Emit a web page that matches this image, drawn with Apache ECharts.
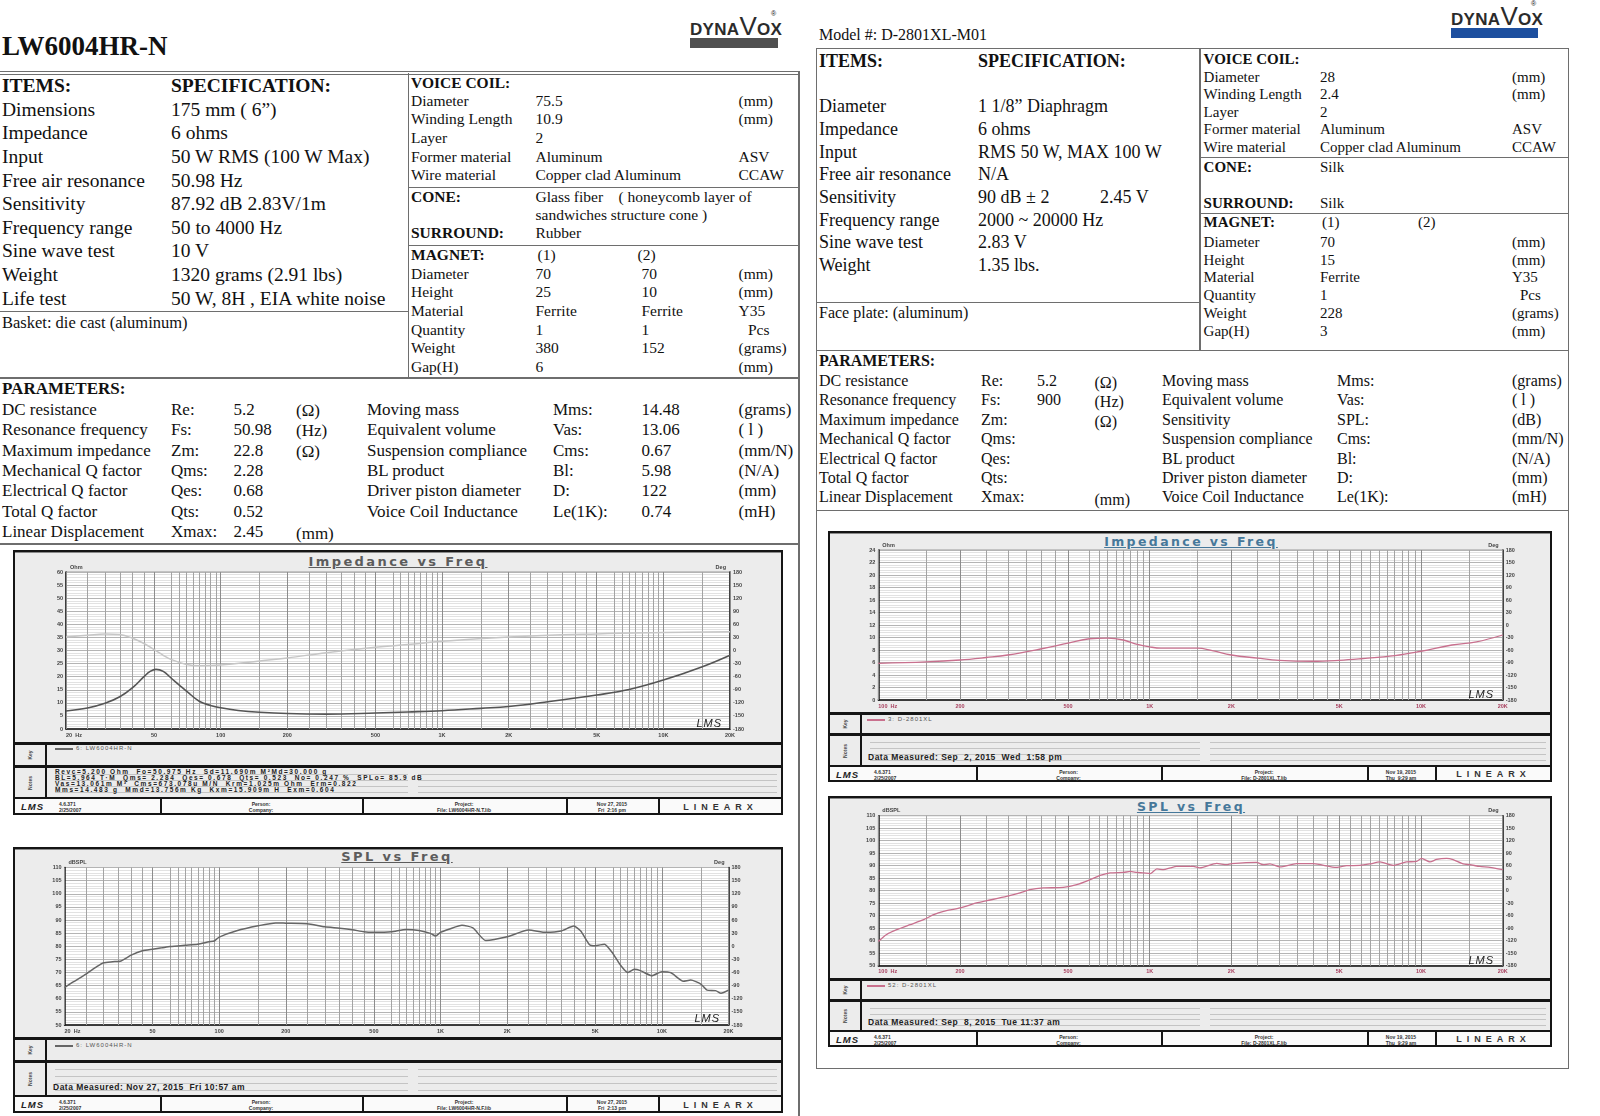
<!DOCTYPE html>
<html><head><meta charset="utf-8">
<script src="https://cdn.jsdelivr.net/npm/echarts@6/dist/echarts.min.js"></script>
<style>
html,body{margin:0;padding:0;background:#fff;width:1600px;height:1116px;overflow:hidden;position:relative}
#page{position:absolute;left:0;top:0;width:1600px;height:1116px}
#chart{position:absolute;left:0;top:0;width:1600px;height:1116px;z-index:2}
.t{position:absolute;white-space:pre}
</style></head><body>
<div id="page"></div>
<div id="chart"></div>
<script>
// ================= DATA =================
// Left sheet (LW6004HR-N)
const lwItems = [['Dimensions','175 mm ( 6”)'],['Impedance','6 ohms'],['Input','50 W RMS (100 W Max)'],['Free air resonance','50.98 Hz'],['Sensitivity','87.92 dB 2.83V/1m'],['Frequency range','50 to 4000 Hz'],['Sine wave test','10 V'],['Weight','1320 grams (2.91 lbs)'],['Life test','50 W, 8H , EIA white noise']];
const lwVoiceCoil = [['Diameter','75.5','(mm)'],['Winding Length','10.9','(mm)'],['Layer','2',''],['Former material','Aluminum','ASV'],['Wire material','Copper clad Aluminum','CCAW']];
const lwMagnet = [['Diameter','70','70','(mm)'],['Height','25','10','(mm)'],['Material','Ferrite','Ferrite','Y35'],['Quantity','1','1','Pcs'],['Weight','380','152','(grams)'],['Gap(H)','6','','(mm)']];
const lwParamsA = [['DC resistance','Re:','5.2','(Ω)'],['Resonance frequency','Fs:','50.98','(Hz)'],['Maximum impedance','Zm:','22.8','(Ω)'],['Mechanical Q factor','Qms:','2.28',''],['Electrical Q factor','Qes:','0.68',''],['Total Q factor','Qts:','0.52',''],['Linear Displacement','Xmax:','2.45','(mm)']];
const lwParamsB = [['Moving mass','Mms:','14.48','(grams)'],['Equivalent volume','Vas:','13.06','( l )'],['Suspension compliance','Cms:','0.67','(mm/N)'],['BL product','Bl:','5.98','(N/A)'],['Driver piston diameter','D:','122','(mm)'],['Voice Coil Inductance','Le(1K):','0.74','(mH)']];
const lwNotes = ['Revc=5.200 Ohm  Fo=50.975 Hz  Sd=11.690m M²Md=30.000 g','BL=5.964 T·M  Qms= 2.284  Qes= 0.678  Qts= 0.523  No= 0.247 %  SPLo= 85.9 dB','Vas=13.061m M³  Cms=673.078u M/N  Krm=1.025m Ohm  Erm=0.822','Mms=14.483 g  Mmd=13.756m Kg  Kxm=15.909m H  Exm=0.604'];

// Right sheet (D-2801XL-M01)
const dxItems = [['Diameter','1 1/8” Diaphragm',''],['Impedance','6 ohms',''],['Input','RMS 50 W, MAX 100 W',''],['Free air resonance','N/A',''],['Sensitivity','90 dB ± 2','2.45 V'],['Frequency range','2000 ~ 20000 Hz',''],['Sine wave test','2.83 V',''],['Weight','1.35 lbs.','']];
const dxVoiceCoil = [['Diameter','28','(mm)'],['Winding Length','2.4','(mm)'],['Layer','2',''],['Former material','Aluminum','ASV'],['Wire material','Copper clad Aluminum','CCAW']];
const dxMagnet = [['Diameter','70','','(mm)'],['Height','15','','(mm)'],['Material','Ferrite','','Y35'],['Quantity','1','','Pcs'],['Weight','228','','(grams)'],['Gap(H)','3','','(mm)']];
const dxParamsA = [['DC resistance','Re:','5.2','(Ω)'],['Resonance frequency','Fs:','900','(Hz)'],['Maximum impedance','Zm:','','(Ω)'],['Mechanical Q factor','Qms:','',''],['Electrical Q factor','Qes:','',''],['Total Q factor','Qts:','',''],['Linear Displacement','Xmax:','','(mm)']];
const dxParamsB = [['Moving mass','Mms:','(grams)'],['Equivalent volume','Vas:','( l )'],['Sensitivity','SPL:','(dB)'],['Suspension compliance','Cms:','(mm/N)'],['BL product','Bl:','(N/A)'],['Driver piston diameter','D:','(mm)'],['Voice Coil Inductance','Le(1K):','(mH)']];

// Chart data: LW6004HR-N impedance (Ohm) and phase (Deg)
const lwImpFreq = [20,25,30,35,40,45,48,51,55,60,65,70,80,90,100,120,150,200,300,500,700,1000,1500,2000,3000,5000,7000,10000,15000,20000];
const lwImpOhm  = [6.9,8.0,9.8,12.3,15.8,20.0,22.0,22.8,22.0,19.3,16.8,14.5,10.6,9.0,8.1,7.1,6.4,5.9,5.7,6.1,6.5,7.0,7.9,8.6,10.4,13.0,15.1,18.7,23.8,28.2];
const lwPhFreq  = [20,25,30,35,40,45,50,55,60,70,80,100,150,200,300,500,700,1000,2000,5000,10000,20000];
const lwPhDeg   = [31,35,38,36.5,28,16,2,-11,-21,-32,-35,-33.5,-24,-17,-5,7.5,13.7,21,31,38,41,43];
// LW6004HR-N SPL (dBSPL)
const lwSplFreq = [20,22,25,28,30,33,36,40,45,50,55,60,70,80,90,95,100,120,150,180,200,250,300,350,400,450,500,600,700,800,900,950,1000,1100,1250,1400,1600,2000,2500,3000,3500,4000,4300,4700,5000,5500,6000,6500,7000,7500,8000,9000,10000,11000,12500,13500,15000,16000,17500,18500,20000];
const lwSplDb   = [64.2,66.5,69.4,72.2,73.7,74.1,74.4,76.6,78.3,78.9,79.4,79.9,80.4,80.8,81.7,82.0,83.5,85.9,87.8,88.9,88.8,88.6,87.4,86.9,86.3,85.5,85.3,85.5,86.4,86.0,84.9,83.9,85.3,86.6,88.0,87.0,82.2,83.6,86.2,85.3,85.8,87.7,85.8,80.7,80.2,80.8,77.3,72.8,70.0,71.2,70.7,68.8,70.3,69.9,66.7,67.1,65.6,63.3,63.1,62.1,63.3];
// D-2801XL impedance (Ohm)
const dxImpFreq = [100,150,200,250,300,400,500,600,700,800,900,1000,1100,1500,1700,2000,2500,3000,4000,5000,6000,8000,10000,13000,16000,20000];
const dxImpOhm  = [5.87,6.1,6.4,6.8,7.2,8.2,9.1,9.8,9.9,9.6,8.9,8.5,8.3,8.3,7.9,7.2,6.7,6.35,6.2,6.35,6.6,7.1,7.8,8.8,9.3,10.4];
// D-2801XL SPL (dBSPL)
const dxSplFreq = [100,107,117,131,147,160,174,200,230,251,297,333,362,406,481,539,603,657,715,801,848,897,949,1005,1063,1125,1191,1257,1448,1531,1766,1920,2004,2477,2623,2774,3020,3479,4005,4882,5318,5947,6475,7056,7890,8834,9630,10050,10790,11410,12420,13130,14300,15130,16480,17940,20000];
const dxSplDb   = [59.7,62.4,64.4,66.4,68.4,70.4,71.7,73.1,75.1,76.0,77.7,79.1,80.4,81.1,81.3,82.4,84.4,86.1,87.1,87.3,87.7,87.3,87.1,86.8,88.7,88.4,89.1,89.7,89.7,89.1,90.9,90.4,90.8,91.3,90.4,90.7,89.5,90.8,90.8,89.3,90.0,90.1,90.7,91.5,90.1,91.5,91.7,92.9,91.5,92.5,92.9,92.4,90.7,90.4,89.7,89.3,88.4];

// Frequency tick labels and grid line frequencies
const lwFreqTicks = [[20,'20  Hz'],[50,'50'],[100,'100'],[200,'200'],[500,'500'],[1000,'1K'],[2000,'2K'],[5000,'5K'],[10000,'10K'],[20000,'20K']];
const dxFreqTicks = [[100,'100  Hz'],[200,'200'],[500,'500'],[1000,'1K'],[2000,'2K'],[5000,'5K'],[10000,'10K'],[20000,'20K']];
const lwGridFreq = [25,30,35,40,45,60,65,70,75,80,85,90,95,150,250,300,350,400,450,600,650,700,750,800,850,900,950,1500,2500,3000,3500,4000,4500,6000,6500,7000,7500,8000,8500,9000,9500,15000];
const dxGridFreq = [150,250,300,350,400,450,600,650,700,750,800,850,900,950,1500,2500,3000,3500,4000,4500,5500,6000,6500,7000,7500,8000,8500,9000,9500,15000];

// ================= PAGE CHROME =================
const SERIF = '"Liberation Serif","Times New Roman",serif';
const SANS = '"Liberation Sans",Arial,sans-serif';
const WIDE = '"DejaVu Sans","Liberation Sans",Arial,sans-serif';
const LC = '#6e6e6e';
const page = document.getElementById('page');
function T(x, yc, s, size, o) {
  o = o || {};
  const d = document.createElement('div');
  d.className = 't';
  d.textContent = s;
  const lh = size * 1.2;
  let st = `left:${x}px;top:${(yc - lh / 2).toFixed(1)}px;font-size:${size}px;line-height:${lh}px;font-family:${o.ff || SERIF};color:${o.c || '#111'};font-weight:${o.b ? 'bold' : 'normal'};`;
  let tr = '';
  if (o.align === 'center') tr += 'translateX(-50%) ';
  if (o.align === 'right') tr += 'translateX(-100%) ';
  if (o.rot) tr += `rotate(${o.rot}deg)`;
  if (tr) st += `transform:${tr};`;
  if (o.ls) st += `letter-spacing:${o.ls}px;`;
  if (o.it) st += 'font-style:italic;';
  if (o.u) st += 'text-decoration:underline;';
  if (o.z) st += `z-index:${o.z};`;
  d.style.cssText = st;
  page.appendChild(d);
  return d;
}
function R(x, y, w, h, bg, extra) {
  const d = document.createElement('div');
  d.style.cssText = `position:absolute;left:${x}px;top:${y}px;width:${w}px;height:${h}px;background:${bg};${extra || ''}`;
  page.appendChild(d);
  return d;
}
function logo(x1, x2, ty, by, bc) {
  const d = document.createElement('div');
  d.className = 't';
  d.style.cssText = `left:${x1}px;top:${ty - 14}px;width:${x2 - x1}px;text-align:center;font-family:${SANS};font-weight:bold;color:#2b2b2b;font-size:17px;line-height:26px;letter-spacing:0.3px;`;
  d.innerHTML = 'DYNA<span style="font-size:26px;font-weight:normal;">V</span>OX';
  page.appendChild(d);
  R(x1, by, x2 - x1, 9.5, bc);
  T(x2 - 7, ty - 13, '®', 7, {ff: SANS});
}

// ---- Left sheet header ----
T(2, 46, 'LW6004HR-N', 27, {b: 1});
logo(690, 778, 27, 38, '#505050');
R(0, 70.5, 799, 1.5, LC); R(0, 73.5, 799, 1.5, LC);
R(407.5, 73, 1.5, 305, LC);
R(0, 310.5, 408, 1.5, LC);
R(408, 186.5, 391, 1.5, LC);
R(408, 244.5, 391, 1.5, LC);
R(0, 377, 799, 2, LC);
R(0, 543, 799, 2, LC);
R(798, 71, 1.5, 1045, LC);

T(2, 86, 'ITEMS:', 19.5, {b: 1});
T(171, 86, 'SPECIFICATION:', 19.5, {b: 1});
lwItems.forEach((r, i) => { T(2, 109.5 + i * 23.6, r[0], 19.5); T(171, 109.5 + i * 23.6, r[1], 19.5); });
T(2, 323, 'Basket: die cast (aluminum)', 16.5);

T(411, 83, 'VOICE COIL:', 15.5, {b: 1});
lwVoiceCoil.forEach((r, i) => { const y = 101 + i * 18.6; T(411, y, r[0], 15.5); T(535.5, y, r[1], 15.5); T(738.5, y, r[2], 15.5); });
T(411, 197, 'CONE:', 15.5, {b: 1});
T(535.5, 197, 'Glass fiber    ( honeycomb layer of', 15.5);
T(535.5, 215, 'sandwiches structure cone )', 15.5);
T(411, 233.5, 'SURROUND:', 15.5, {b: 1});
T(535.5, 233.5, 'Rubber', 15.5);
T(411, 255, 'MAGNET:', 15.5, {b: 1});
T(537.5, 255, '(1)', 15.5); T(637.5, 255, '(2)', 15.5);
lwMagnet.forEach((r, i) => { const y = 274 + i * 18.6; T(411, y, r[0], 15.5); T(535.5, y, r[1], 15.5); T(641.5, y, r[2], 15.5); T(r[3] === 'Pcs' ? 748 : 738.5, y, r[3], 15.5); });

T(2, 389.5, 'PARAMETERS:', 17, {b: 1});
lwParamsA.forEach((r, i) => { const y = 410 + i * 20.4; T(2, y, r[0], 17); T(171, y, r[1], 17); T(233.6, y, r[2], 17); T(296, y + (i === 6 ? 2 : 1), r[3], 17); });
lwParamsB.forEach((r, i) => { const y = 410 + i * 20.4; T(367, y, r[0], 17); T(553, y, r[1], 17); T(641.6, y, r[2], 17); T(738.5, y, r[3], 17); });

// ---- Right sheet header ----
T(819, 35, 'Model #: D-2801XL-M01', 16);
logo(1451, 1538, 17, 28, '#1d4f9f');
R(816, 48, 753, 1021, 'transparent', `box-sizing:border-box;border:1.5px solid ${LC};`);
R(1199, 48, 1.5, 302, LC);
R(816, 301.5, 383, 1.5, LC);
R(816, 349.5, 753, 1.5, LC);
R(1199, 156.5, 370, 1.5, LC);
R(1199, 212.5, 370, 1.5, LC);
R(816, 509.5, 753, 1.5, LC);

T(819, 62, 'ITEMS:', 18, {b: 1});
T(978, 62, 'SPECIFICATION:', 18, {b: 1});
dxItems.forEach((r, i) => { const y = 107 + i * 22.7; T(819, y, r[0], 18); T(978, y, r[1], 18); if (r[2]) T(1100, y, r[2], 18); });
T(819, 313, 'Face plate: (aluminum)', 16);

T(1203.6, 59, 'VOICE COIL:', 15, {b: 1});
dxVoiceCoil.forEach((r, i) => { const y = 76.5 + i * 17.6; T(1203.6, y, r[0], 15); T(1320, y, r[1], 15); T(1512, y, r[2], 15); });
T(1203.6, 167, 'CONE:', 15, {b: 1}); T(1320, 167, 'Silk', 15);
T(1203.6, 203, 'SURROUND:', 15, {b: 1}); T(1320, 203, 'Silk', 15);
T(1203.6, 222, 'MAGNET:', 15, {b: 1}); T(1322, 222, '(1)', 15); T(1418, 222, '(2)', 15);
dxMagnet.forEach((r, i) => { const y = 242 + i * 17.7; T(1203.6, y, r[0], 15); T(1320, y, r[1], 15); T(r[3] === 'Pcs' ? 1520 : 1512, y, r[3], 15); });

T(819, 361, 'PARAMETERS:', 16, {b: 1});
dxParamsA.forEach((r, i) => { const y = 380.5 + i * 19.4; T(819, y, r[0], 16); T(981, y, r[1], 16); if (r[2]) T(1037, y, r[2], 16); T(1094.5, i === 6 ? 500 : y + 2, r[3], 16); });
dxParamsB.forEach((r, i) => { const y = 380.5 + i * 19.4; T(1162, y, r[0], 16); T(1337, y, r[1], 16); T(1512, y, r[2], 16); });

// ---- LMS chart frames ----
const frames = [
  {x: 13, y: 550, w: 770, lt: 742, nt: 765, ft: 797, b: 815, kw: 32, title: 'Impedance vs Freq', tx: 398, ty: 561.5, tc: '#5c5c5c', ts: 13, lc: '#666', leg: '6: LW6004HR-N', lx: 55, ly: 748, split: 413,
   div: [160, 362, 566, 658], file: 'File: LW6004HR-N.T.lib', date: ['Nov 27, 2015', 'Fri  2:16 pm'], lms: [722, 723.5], notes: lwNotes, dm: ''},
  {x: 13, y: 847, w: 770, lt: 1037, nt: 1060, ft: 1095, b: 1113, kw: 32, title: 'SPL vs Freq', tx: 397, ty: 857, tc: '#5c5c5c', ts: 13, lc: '#666', leg: '6: LW6004HR-N', lx: 55, ly: 1045, split: 413,
   div: [160, 362, 566, 658], file: 'File: LW6004HR-N.F.lib', date: ['Nov 27, 2015', 'Fri  2:13 pm'], lms: [720, 1018.5], notes: [], dm: 'Data Measured: Nov 27, 2015  Fri 10:57 am'},
  {x: 828, y: 531, w: 724, lt: 712, nt: 733, ft: 765, b: 782, kw: 32, title: 'Impedance vs Freq', tx: 1191, ty: 541.5, tc: '#46789a', ts: 12.5, lc: '#c9708d', leg: '3: D-2801XL', lx: 867, ly: 719, split: 1205,
   div: [976, 1161, 1367, 1435], file: 'File: D-2801XL.T.lib', date: ['Nov 19, 2015', 'Thu  9:29 am'], lms: [1494, 695], notes: [], dm: 'Data Measured: Sep  2, 2015  Wed  1:58 pm'},
  {x: 828, y: 796, w: 724, lt: 978, nt: 999, ft: 1030, b: 1047, kw: 32, title: 'SPL vs Freq', tx: 1191, ty: 806, tc: '#46789a', ts: 12.5, lc: '#c9708d', leg: '52: D-2801XL', lx: 867, ly: 985, split: 1205,
   div: [976, 1161, 1367, 1435], file: 'File: D-2801XL.F.lib', date: ['Nov 19, 2015', 'Thu  9:29 am'], lms: [1494, 961], notes: [], dm: 'Data Measured: Sep  8, 2015  Tue 11:37 am'}
];
frames.forEach(F => {
  const {x, y, w, lt, nt, ft, b, kw} = F;
  R(x, y, w, b - y, '#ececec', 'box-sizing:border-box;border:2px solid #151515;');
  R(x + 2, y + 2, w - 4, 1, '#8a8a8a');
  R(x, lt, w, 3, '#151515');
  R(x, nt, w, 3, '#151515');
  R(x, ft, w, 2, '#151515');
  R(x + 2, ft + 2, w - 4, b - ft - 4, '#fafafa');
  R(x + kw, lt, 2, ft - lt, '#151515');
  T(x + kw / 2 + 1, (lt + 3 + nt) / 2, 'Key', 5, {ff: SANS, b: 1, c: '#444', rot: -90, align: 'center'});
  T(x + kw / 2 + 1, (nt + 3 + ft) / 2, 'Notes', 5, {ff: SANS, b: 1, c: '#444', rot: -90, align: 'center'});
  const s = (ft - nt - 14) / 3;
  for (let k = 0; k < 4; k++) {
    const ry = nt + 9 + k * s;
    R(x + kw + 10, ry, F.split - 5 - (x + kw + 10), 1, '#c4c4c4');
    R(F.split + 5, ry, x + w - 6 - F.split - 5, 1, '#c4c4c4');
    if (F.notes[k]) T(x + kw + 10, ry - 2.5, F.notes[k], 6.5, {ff: SANS, b: 1, c: '#222', ls: 1.6});
  }
  if (F.dm) T(x + kw + 8, nt + 9 + 3 * s - 2.5, F.dm, 8.5, {ff: SANS, b: 1, c: '#222', ls: 0.5});
  // title
  T(F.tx, F.ty, F.title, F.ts, {ff: WIDE, b: 1, c: F.tc, align: 'center', ls: 2.4, u: 1});
  // legend
  R(F.lx, F.ly, 18, 1.5, F.lc);
  T(F.lx + 21, F.ly + 0.5, F.leg, 6, {ff: SANS, c: '#555', ls: 1});
  // LMS signature
  T(F.lms[0], F.lms[1], 'LMS', 11, {ff: SANS, it: 1, c: '#222', align: 'right', z: 3, ls: 1});
  // footer
  F.div.forEach(dx => R(dx, ft, 2, b - ft, '#151515'));
  const fy = (ft + b) / 2 + 1;
  T(x + 8, fy, 'LMS', 9.5, {ff: SANS, it: 1, b: 1, c: '#222', ls: 1});
  T(x + 46, fy - 3, '4.6.371', 5, {ff: SANS, b: 1, c: '#333'});
  T(x + 46, fy + 3, '2/25/2007', 5, {ff: SANS, b: 1, c: '#333'});
  const cx = [(F.div[0] + F.div[1]) / 2, (F.div[1] + F.div[2]) / 2, (F.div[2] + F.div[3]) / 2];
  T(cx[0], fy - 3, 'Person:', 5, {ff: SANS, b: 1, c: '#333', align: 'center'});
  T(cx[0], fy + 3, 'Company:', 5, {ff: SANS, b: 1, c: '#333', align: 'center'});
  T(cx[1], fy - 3, 'Project:', 5, {ff: SANS, b: 1, c: '#333', align: 'center'});
  T(cx[1], fy + 3, F.file, 5, {ff: SANS, b: 1, c: '#333', align: 'center'});
  T(cx[2], fy - 3, F.date[0], 5, {ff: SANS, b: 1, c: '#333', align: 'center'});
  T(cx[2], fy + 3, F.date[1], 5, {ff: SANS, b: 1, c: '#333', align: 'center'});
  T((F.div[3] + x + w) / 2, fy, 'LINEARX', 9, {ff: SANS, b: 1, c: '#333', align: 'center', ls: 5});
});

// ================= CHARTS =================
const chart = echarts.init(document.getElementById('chart'), null, {renderer: 'canvas'});
const grids = [[66, 572, 664, 157], [64.5, 867.5, 664, 157.5], [878.3, 550, 624.4, 150], [878.3, 815.7, 624.4, 150]];
const xRange = [[20, 20000], [20, 20000], [100, 20000], [100, 20000]];
const yLeft = [[0, 60, 5, 'Ohm'], [50, 110, 5, 'dBSPL'], [0, 24, 2, 'Ohm'], [50, 110, 5, 'dBSPL']];
const tickColor = ['#444', '#444', '#a8405f', '#a8405f'];
const zip = (a, b) => a.map((v, i) => [v, b[i]]);
const lblFont = {fontSize: 5.5, fontFamily: SANS, fontWeight: 'bold', color: '#444'};

const xAxis = grids.map((g, i) => ({
  type: 'log', logBase: 10, gridIndex: i, min: xRange[i][0], max: xRange[i][1],
  axisLabel: {show: false}, axisTick: {show: false}, splitLine: {show: false},
  axisLine: {show: true, onZero: false, lineStyle: {color: '#111', width: 1.5}}
}));
const yAxis = [];
grids.forEach((g, i) => {
  yAxis.push({
    type: 'value', gridIndex: i, position: 'left', min: yLeft[i][0], max: yLeft[i][1], interval: yLeft[i][2],
    name: yLeft[i][3], nameLocation: 'end', nameGap: 2,
    nameTextStyle: Object.assign({}, lblFont, {align: 'left', padding: [0, 0, 0, 4]}),
    axisLabel: Object.assign({margin: 3}, lblFont),
    axisTick: {show: false},
    axisLine: {show: true, onZero: false, lineStyle: {color: '#111', width: 1.5}},
    splitLine: {show: true, lineStyle: {color: '#b4b4b4', width: 1}},
    minorTick: {show: false, splitNumber: 5},
    minorSplitLine: {show: true, lineStyle: {color: '#e2e2e2', width: 1}}
  });
  yAxis.push({
    type: 'value', gridIndex: i, position: 'right', min: -180, max: 180, interval: 30,
    name: 'Deg', nameLocation: 'end', nameGap: 2,
    nameTextStyle: Object.assign({}, lblFont, {align: 'right', padding: [0, 4, 0, 0]}),
    axisLabel: Object.assign({margin: 3}, lblFont),
    axisTick: {show: false},
    axisLine: {show: true, onZero: false, lineStyle: {color: '#111', width: 1.5}},
    splitLine: {show: false}
  });
});

function gridSeries(i, freqs, ticks) {
  const data = freqs.map(f => ({xAxis: f}))
    .concat(ticks.map((t, k) => ({
      xAxis: t[0], lineStyle: {color: '#8c8c8c'},
      label: {show: true, position: 'start', formatter: t[1], distance: 3, fontSize: 5.5, fontFamily: SANS, fontWeight: 'bold', color: tickColor[i], align: k === 0 ? 'left' : 'center'}
    })));
  return {
    type: 'line', xAxisIndex: i, yAxisIndex: 2 * i, data: [[xRange[i][0], yLeft[i][0]]], symbol: 'none', showSymbol: false,
    lineStyle: {opacity: 0}, silent: true, z: 1,
    markLine: {silent: true, z: 1, symbol: ['none', 'none'], animation: false,
      lineStyle: {color: '#a3a3a3', width: 1, type: 'solid'}, label: {show: false}, emphasis: {disabled: true}, data: data}
  };
}
function curve(i, axisIdx, data, color, width, smooth) {
  return {type: 'line', xAxisIndex: i, yAxisIndex: axisIdx, data: data, symbol: 'none', showSymbol: false, smooth: smooth,
    lineStyle: {color: color, width: width}, silent: true, z: 3};
}

chart.setOption({
  animation: false,
  backgroundColor: 'transparent',
  grid: grids.map(g => ({left: g[0], top: g[1], width: g[2], height: g[3], show: true, backgroundColor: '#fff', borderColor: '#9a9a9a', borderWidth: 1, containLabel: false, outerBoundsMode: 'none'})),
  xAxis: xAxis,
  yAxis: yAxis,
  series: [
    gridSeries(0, lwGridFreq, lwFreqTicks),
    curve(0, 1, zip(lwPhFreq, lwPhDeg), '#c6c6c6', 1.5, 0.4),
    curve(0, 0, zip(lwImpFreq, lwImpOhm), '#555555', 1.6, 0.4),
    gridSeries(1, lwGridFreq, lwFreqTicks),
    curve(1, 2, zip(lwSplFreq, lwSplDb), '#666666', 1.5, 0.2),
    gridSeries(2, dxGridFreq, dxFreqTicks),
    curve(2, 4, zip(dxImpFreq, dxImpOhm), '#c8708e', 1.3, 0.4),
    gridSeries(3, dxGridFreq, dxFreqTicks),
    curve(3, 6, zip(dxSplFreq, dxSplDb), '#c8708e', 1.3, 0.2)
  ]
});
</script></body></html>
